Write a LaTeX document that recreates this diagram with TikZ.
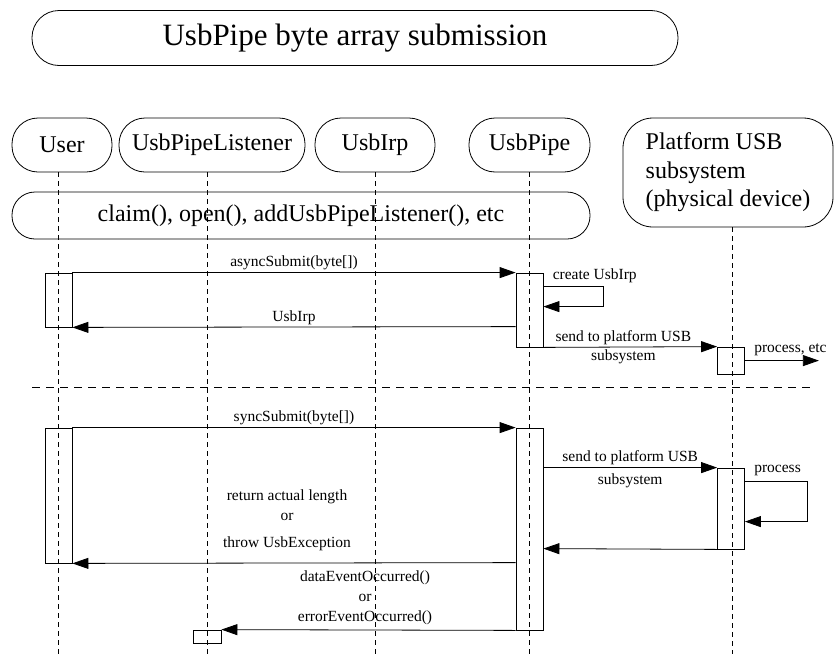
\documentclass[tikz,border=0pt]{standalone}
\usepackage{fontspec}
\setmainfont{Liberation Serif}
\usetikzlibrary{arrows.meta,calc}
\begin{document}
\begin{tikzpicture}[x=1pt,y=-1pt,
  line width=0.8pt,
  hdr/.style={draw, rounded corners=26pt, inner sep=0pt, minimum height=54pt, font=\fontsize{24}{28}\selectfont},
  act/.style={draw, inner sep=0pt, minimum width=27pt},
  life/.style={dash pattern=on 5pt off 4pt, line width=0.7pt},
  msg/.style={-{Triangle[length=16pt,width=11pt]}},
  lbl/.style={font=\fontsize{15.5}{20}\selectfont, inner sep=2pt, align=center}]
\useasboundingbox (0,0) rectangle (835,656);

% title
\node[draw, rounded corners=27pt, minimum width=646pt, minimum height=55pt, inner sep=0pt,
      font=\fontsize{31}{36}\selectfont] (title) at (355,38) {UsbPipe byte array submission};

% headers
\node[hdr, minimum width=100pt] (user) at (62,145) {User};
\node[hdr, minimum width=186pt] (lis) at (212,145) {UsbPipeListener};
\node[hdr, minimum width=120pt] (irp) at (375,145) {UsbIrp};
\node[hdr, minimum width=121pt] (pipe) at (529.5,145) {UsbPipe};
\node[draw, rounded corners=30pt, minimum width=210pt, minimum height=109pt, inner sep=0pt,
      align=left, font=\fontsize{24}{28.5}\selectfont] (plat) at (728,172.5)
      {Platform USB\\subsystem\\(physical device)};
\node[draw, rounded corners=23pt, minimum width=578pt, minimum height=47pt, inner sep=0pt,
      font=\fontsize{24}{28}\selectfont] (claim) at (301,215.5)
      {claim(), open(), addUsbPipeListener(), etc\hspace{21pt}};

% lifelines
\draw[life] ([xshift=-4pt]user.south) -- ++(0,482);
\draw[life] ([xshift=-5pt]lis.south) -- ++(0,482);
\draw[life] (irp.south) -- ++(0,482);
\draw[life] (pipe.south) -- ++(0,482);
\draw[life] ([xshift=4pt]plat.south) -- ++(0,427);

% separator
\coordinate (sepL) at (32,387);
\coordinate (sepR) at (812,387);
\draw[dash pattern=on 8pt off 6pt, line width=0.7pt] (sepL) -- (sepR);

% activations, part 1
\node[act, minimum height=54pt] (ua1) at (58.5,300) {};
\node[act, minimum height=74pt] (pa1) at (529.5,310) {};
\node[act, minimum height=27pt] (fa1) at (731,360.5) {};

% messages, part 1
\draw[msg] (ua1.north east) -- node[lbl, above] {asyncSubmit(byte[])} (pa1.north west);
\draw[msg] ($(pa1.north east)+(0,14)$) -- ++(60,0) -- ++(0,20) -- ($(pa1.north east)+(0,34)$);
\node[lbl, anchor=west] (cl) at ($(pa1.north east)+(7,3)$) {create UsbIrp};
\draw[msg] ($(pa1.north west)+(0,54)$) -- node[lbl, above] {UsbIrp} (ua1.south east);
\draw[msg] (pa1.south east) -- node[lbl, above, pos=0.46] {send to platform USB}
  node[lbl, below, pos=0.46] {subsystem} (fa1.north west);
\draw[msg] ($(fa1.north east)+(0,14)$) -- ++(74,0);
\node[lbl, anchor=west] (pl) at ($(fa1.north east)+(7,3)$) {process, etc};

% activations, part 2
\node[act, minimum height=135pt] (ua2) at (58.5,495.5) {};
\node[act, minimum height=202pt] (pa2) at (529.5,529) {};
\node[act, minimum height=81pt] (fa2) at (731,508.5) {};
\node[act, minimum width=28pt, minimum height=13pt] (la2) at (207,636.5) {};

% messages, part 2
\draw[msg] (ua2.north east) -- node[lbl, above] {syncSubmit(byte[])} (pa2.north west);
\draw[msg] ($(pa2.north east)+(0,40)$) -- node[lbl, above, pos=0.5] {send to platform USB}
  node[lbl, below=4pt, pos=0.5] {subsystem} (fa2.north west);
\draw[msg] ($(fa2.north east)+(0,14)$) -- ++(62,0) -- ++(0,40) -- ($(fa2.north east)+(0,54)$);
\node[lbl, anchor=west] (pr) at ($(fa2.north east)+(7,3)$) {process};
\draw[msg] (fa2.south west) -- ($(pa2.north east)+(0,121)$);
\draw[msg] ($(pa2.north west)+(0,135)$) -- (ua2.south east);
\node[lbl] (ret) at (287,520.5) {return actual length\\or\\[7pt]throw UsbException};
\draw[msg] (pa2.south west) -- (la2.north east);
\node[lbl] (ev) at (365,598) {dataEventOccurred()\\or\\errorEventOccurred()};
\end{tikzpicture}
\end{document}
